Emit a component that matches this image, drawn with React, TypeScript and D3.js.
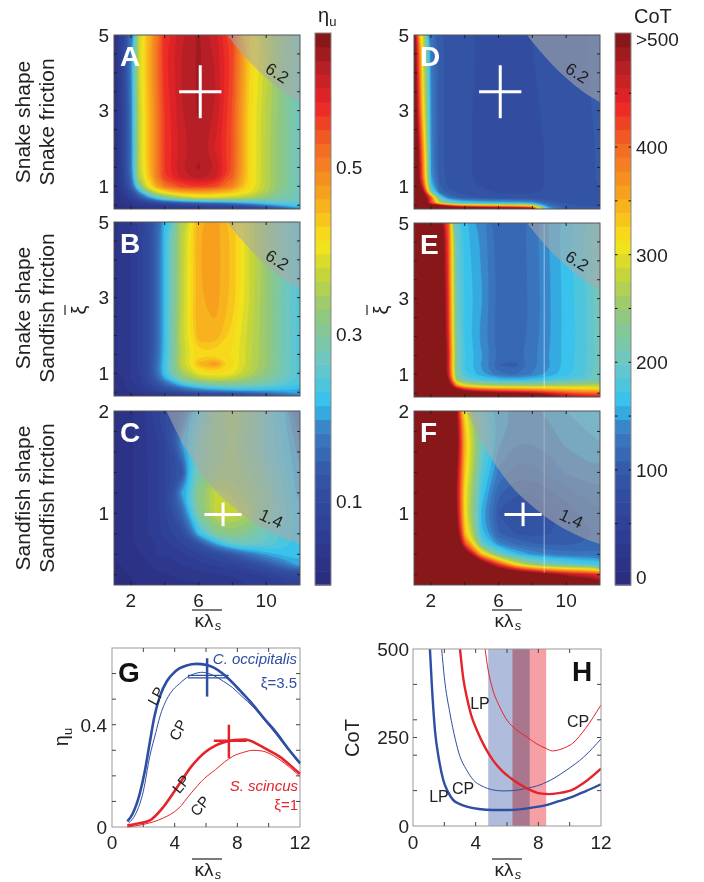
import React from 'react';
import * as d3 from 'd3';

const FONT = '"Liberation Sans", Arial, Helvetica, sans-serif';

// sampled grid: columns are kappa*lambda_s, rows are xi (ascending)
const KAPPA = [1, 1.5, 2, 2.5, 3, 3.5, 4, 5, 6, 7, 8, 9, 10, 11, 12];
const XI_SNAKE = [0.4, 0.47, 0.55, 0.7, 0.85, 1, 1.25, 1.5, 2, 3, 4, 5];
const XI_SAND = [0.3, 0.4, 0.5, 0.6, 0.7, 0.8, 1.0, 1.2, 1.4, 1.7, 2.0];

// eta_u, snake shape / snake friction
const ETA_A = [
  [0.01, 0.01, 0.02, 0.02, 0.03, 0.03, 0.03, 0.04, 0.04, 0.05, 0.05, 0.06, 0.08, 0.11, 0.18],
  [0.01, 0.02, 0.03, 0.04, 0.04, 0.05, 0.05, 0.06, 0.07, 0.08, 0.09, 0.11, 0.15, 0.19, 0.23],
  [0.02, 0.03, 0.04, 0.06, 0.07, 0.09, 0.1, 0.12, 0.14, 0.15, 0.17, 0.2, 0.23, 0.25, 0.26],
  [0.02, 0.04, 0.07, 0.12, 0.18, 0.24, 0.29, 0.35, 0.38, 0.38, 0.37, 0.35, 0.32, 0.29, 0.27],
  [0.02, 0.05, 0.1, 0.2, 0.31, 0.38, 0.42, 0.46, 0.47, 0.46, 0.44, 0.4, 0.35, 0.3, 0.27],
  [0.02, 0.06, 0.14, 0.3, 0.4, 0.46, 0.51, 0.55, 0.56, 0.55, 0.5, 0.42, 0.36, 0.31, 0.27],
  [0.02, 0.07, 0.16, 0.36, 0.43, 0.5, 0.56, 0.6, 0.62, 0.6, 0.53, 0.42, 0.36, 0.31, 0.27],
  [0.02, 0.07, 0.17, 0.37, 0.44, 0.5, 0.56, 0.61, 0.63, 0.61, 0.54, 0.42, 0.36, 0.31, 0.27],
  [0.02, 0.07, 0.17, 0.37, 0.44, 0.5, 0.56, 0.6, 0.62, 0.59, 0.54, 0.42, 0.36, 0.31, 0.27],
  [0.02, 0.07, 0.17, 0.37, 0.44, 0.5, 0.56, 0.61, 0.63, 0.61, 0.54, 0.42, 0.36, 0.31, 0.27],
  [0.02, 0.08, 0.18, 0.38, 0.45, 0.51, 0.57, 0.61, 0.63, 0.61, 0.55, 0.43, 0.37, 0.31, 0.27],
  [0.02, 0.08, 0.18, 0.38, 0.45, 0.51, 0.57, 0.61, 0.63, 0.6, 0.55, 0.43, 0.37, 0.32, 0.28],
];

// eta_u, snake shape / sandfish friction
const ETA_B = [
  [0.02, 0.02, 0.02, 0.03, 0.03, 0.04, 0.04, 0.05, 0.06, 0.07, 0.08, 0.09, 0.11, 0.14, 0.18],
  [0.02, 0.02, 0.03, 0.03, 0.04, 0.05, 0.06, 0.08, 0.1, 0.11, 0.12, 0.14, 0.16, 0.18, 0.2],
  [0.02, 0.03, 0.04, 0.05, 0.06, 0.08, 0.1, 0.14, 0.17, 0.19, 0.2, 0.21, 0.21, 0.21, 0.21],
  [0.02, 0.03, 0.04, 0.06, 0.08, 0.11, 0.15, 0.22, 0.27, 0.29, 0.3, 0.29, 0.27, 0.25, 0.23],
  [0.03, 0.03, 0.05, 0.06, 0.09, 0.14, 0.2, 0.3, 0.35, 0.37, 0.36, 0.33, 0.3, 0.27, 0.24],
  [0.03, 0.04, 0.05, 0.07, 0.1, 0.16, 0.23, 0.34, 0.4, 0.42, 0.4, 0.36, 0.32, 0.28, 0.24],
  [0.03, 0.04, 0.05, 0.07, 0.1, 0.16, 0.23, 0.37, 0.45, 0.48, 0.42, 0.37, 0.33, 0.28, 0.24],
  [0.03, 0.04, 0.05, 0.07, 0.1, 0.15, 0.22, 0.36, 0.42, 0.42, 0.41, 0.37, 0.33, 0.28, 0.24],
  [0.03, 0.04, 0.05, 0.07, 0.1, 0.15, 0.22, 0.37, 0.46, 0.46, 0.42, 0.37, 0.33, 0.28, 0.24],
  [0.03, 0.04, 0.05, 0.07, 0.1, 0.15, 0.22, 0.36, 0.46, 0.47, 0.44, 0.38, 0.33, 0.28, 0.24],
  [0.03, 0.04, 0.05, 0.07, 0.1, 0.15, 0.22, 0.36, 0.46, 0.47, 0.44, 0.38, 0.33, 0.28, 0.24],
  [0.03, 0.04, 0.05, 0.07, 0.1, 0.15, 0.22, 0.36, 0.46, 0.47, 0.44, 0.38, 0.33, 0.28, 0.24],
];

// eta_u, sandfish shape / sandfish friction
const ETA_C = [
  [0.01, 0.01, 0.01, 0.02, 0.02, 0.02, 0.02, 0.03, 0.03, 0.04, 0.04, 0.05, 0.05, 0.06, 0.07],
  [0.01, 0.01, 0.02, 0.02, 0.02, 0.03, 0.03, 0.04, 0.04, 0.05, 0.05, 0.06, 0.07, 0.09, 0.11],
  [0.01, 0.02, 0.02, 0.03, 0.03, 0.04, 0.04, 0.05, 0.06, 0.07, 0.08, 0.1, 0.13, 0.17, 0.21],
  [0.02, 0.02, 0.03, 0.03, 0.04, 0.05, 0.05, 0.06, 0.08, 0.1, 0.13, 0.17, 0.2, 0.22, 0.22],
  [0.02, 0.02, 0.03, 0.04, 0.04, 0.05, 0.06, 0.08, 0.12, 0.2, 0.26, 0.27, 0.26, 0.24, 0.22],
  [0.02, 0.02, 0.03, 0.04, 0.05, 0.06, 0.07, 0.1, 0.22, 0.3, 0.32, 0.3, 0.27, 0.24, 0.22],
  [0.02, 0.02, 0.03, 0.04, 0.05, 0.06, 0.08, 0.15, 0.3, 0.37, 0.38, 0.35, 0.3, 0.26, 0.22],
  [0.02, 0.02, 0.03, 0.04, 0.05, 0.06, 0.08, 0.2, 0.32, 0.37, 0.36, 0.33, 0.3, 0.25, 0.2],
  [0.02, 0.02, 0.03, 0.04, 0.05, 0.06, 0.08, 0.12, 0.28, 0.33, 0.34, 0.32, 0.28, 0.24, 0.2],
  [0.02, 0.02, 0.03, 0.04, 0.05, 0.06, 0.08, 0.2, 0.28, 0.32, 0.33, 0.3, 0.26, 0.23, 0.18],
  [0.02, 0.02, 0.03, 0.04, 0.06, 0.08, 0.1, 0.15, 0.24, 0.32, 0.35, 0.32, 0.27, 0.22, 0.15],
];

// cost of transport, snake shape / snake friction
const COT_D = [
  [600, 600, 600, 600, 600, 600, 600, 600, 560, 540, 520, 160, 110, 100, 100],
  [600, 600, 600, 560, 480, 430, 400, 380, 370, 360, 340, 130, 100, 95, 95],
  [600, 580, 420, 280, 220, 200, 185, 175, 170, 165, 160, 110, 95, 92, 92],
  [650, 600, 420, 200, 130, 110, 100, 92, 88, 86, 86, 86, 88, 90, 92],
  [620, 520, 220, 120, 100, 95, 90, 85, 82, 80, 82, 84, 88, 90, 94],
  [600, 450, 170, 110, 95, 90, 86, 82, 78, 78, 80, 84, 88, 92, 96],
  [600, 400, 150, 102, 92, 88, 85, 80, 75, 76, 80, 84, 88, 92, 97],
  [620, 400, 145, 100, 92, 88, 85, 80, 76, 77, 80, 84, 88, 92, 97],
  [600, 380, 140, 100, 92, 88, 85, 80, 76, 77, 80, 84, 88, 92, 97],
  [560, 330, 140, 100, 92, 88, 85, 80, 77, 78, 81, 85, 89, 93, 98],
  [540, 310, 135, 100, 92, 88, 85, 81, 78, 79, 82, 86, 90, 94, 99],
  [520, 300, 130, 100, 92, 88, 85, 82, 80, 80, 83, 87, 91, 95, 100],
];

// cost of transport, snake shape / sandfish friction
const COT_E = [
  [600, 600, 600, 600, 600, 600, 600, 600, 600, 600, 600, 520, 480, 460, 450],
  [600, 600, 600, 600, 600, 600, 580, 560, 540, 530, 520, 480, 440, 420, 420],
  [600, 600, 600, 600, 600, 560, 500, 460, 440, 430, 420, 400, 380, 360, 360],
  [600, 600, 600, 600, 560, 380, 300, 270, 260, 255, 255, 260, 265, 270, 280],
  [600, 600, 600, 600, 500, 250, 200, 175, 165, 160, 165, 175, 185, 195, 210],
  [600, 600, 600, 600, 470, 220, 175, 150, 125, 120, 135, 150, 168, 182, 210],
  [600, 600, 600, 600, 460, 215, 172, 145, 108, 102, 128, 146, 165, 180, 208],
  [600, 600, 600, 600, 470, 220, 174, 148, 120, 116, 130, 147, 165, 180, 208],
  [600, 600, 600, 590, 450, 215, 170, 142, 112, 110, 126, 145, 165, 180, 208],
  [600, 600, 600, 590, 440, 205, 172, 148, 116, 112, 125, 145, 165, 180, 210],
  [600, 600, 600, 580, 430, 200, 168, 145, 114, 112, 126, 146, 166, 182, 212],
  [600, 600, 600, 570, 420, 198, 165, 142, 114, 112, 128, 148, 168, 185, 215],
];

// cost of transport, sandfish shape / sandfish friction
const COT_F = [
  [600, 600, 600, 600, 600, 600, 600, 600, 600, 600, 600, 600, 580, 560, 550],
  [600, 600, 600, 600, 600, 600, 600, 600, 600, 590, 560, 520, 480, 460, 440],
  [600, 600, 600, 600, 600, 600, 600, 560, 430, 310, 240, 210, 195, 185, 180],
  [600, 600, 600, 600, 600, 600, 570, 340, 210, 165, 145, 135, 128, 125, 125],
  [600, 600, 600, 600, 600, 590, 420, 200, 140, 120, 110, 106, 106, 110, 115],
  [600, 600, 600, 600, 600, 540, 340, 165, 110, 95, 90, 95, 100, 105, 110],
  [600, 600, 600, 600, 600, 500, 310, 155, 95, 82, 82, 90, 100, 110, 120],
  [600, 600, 600, 600, 600, 490, 310, 170, 112, 96, 96, 105, 115, 125, 130],
  [600, 600, 600, 600, 600, 500, 330, 185, 130, 115, 115, 125, 135, 140, 145],
  [600, 600, 600, 600, 600, 540, 350, 205, 150, 135, 135, 140, 150, 155, 160],
  [600, 600, 600, 600, 600, 500, 310, 195, 155, 145, 145, 150, 160, 165, 170],
];

// grey regions (boundary points [kappa, xi])
const SHADE_62 = [[7.7, 5], [8, 4.82], [9, 4.3], [10, 3.86], [11, 3.5], [12, 3.22]];
const SHADE_14 = [[4.1, 2], [5, 1.7], [6, 1.43], [7, 1.22], [8, 1.07], [9, 0.94], [10, 0.84], [11, 0.76], [12, 0.7]];

// measured animal operating points
const CROSS_SNAKE = { k: 6.1, xi: 3.5, dk: 1.25, dxi: 0.7 };
const CROSS_SAND = { k: 7.45, xi: 0.99, dk: 1.1, dxi: 0.115 };

// colour bars
const ETA_DOM = [0, 0.66];
const COT_DOM = [-7, 506];
const ETA_TICKS = [0.1, 0.3, 0.5];
const COT_TICKS = [0, 100, 200, 300, 400, 500];
const COT_TICK_LABELS = ['0', '100', '200', '300', '400', '>500'];

const JET_POS = [0, 0.1, 0.2, 0.28, 0.33, 0.4, 0.5, 0.57, 0.62, 0.7, 0.8, 0.87, 0.94, 1];
const JET = ['#2a2a7a', '#2e3f96', '#3456a6', '#3a7cc2', '#33c3f0', '#6bc7c8', '#96c876', '#cbd632',
  '#f7e51a', '#f7a81d', '#f26523', '#ec2427', '#b41f26', '#7c1517'];

// panel G: eta_u vs kappa*lambda_s
const G_BLUE_LP_K = [0.98, 1.3, 1.77, 2.1, 2.41, 2.7, 3.05, 3.5, 3.9, 4.3, 4.76, 5.4, 6, 6.5, 7.1, 7.7, 8.3, 9.0, 9.7, 10.5, 11.2, 12];
const G_BLUE_LP = [0.022, 0.05, 0.13, 0.22, 0.33, 0.43, 0.51, 0.57, 0.6, 0.62, 0.632, 0.638, 0.634, 0.623, 0.598, 0.564, 0.525, 0.478, 0.425, 0.368, 0.31, 0.25];
const G_BLUE_CP_K = [1.06, 1.5, 2.0, 2.41, 2.8, 3.05, 3.5, 3.9, 4.3, 4.76, 5.2, 5.8, 6.5, 7.1, 7.7, 8.3, 9.0, 9.7, 10.5, 11.2, 12];
const G_BLUE_CP = [0.015, 0.05, 0.14, 0.276, 0.37, 0.43, 0.5, 0.537, 0.56, 0.584, 0.598, 0.605, 0.592, 0.57, 0.545, 0.51, 0.47, 0.42, 0.36, 0.305, 0.245];
const G_RED_LP_K = [0.97, 1.5, 2.41, 3.3, 4.2, 5.07, 5.9, 6.6, 7.2, 7.8, 8.5, 9.4, 10.0, 10.7, 11.4, 12];
const G_RED_LP = [0.006, 0.012, 0.026, 0.08, 0.159, 0.237, 0.29, 0.318, 0.332, 0.34, 0.342, 0.32, 0.3, 0.275, 0.24, 0.208];
const G_RED_CP_K = [0.97, 2.0, 3.3, 4.2, 5.07, 5.9, 6.6, 7.2, 7.7, 8.4, 9.0, 9.6, 10.3, 11.0, 12];
const G_RED_CP = [0.0, 0.01, 0.036, 0.07, 0.134, 0.19, 0.224, 0.255, 0.276, 0.292, 0.3, 0.297, 0.279, 0.25, 0.198];
const G_CROSS_BLUE = { k: 6.07, lo: 0.51, hi: 0.66, k0: 4.85, k1: 7.45, v: [0.583, 0.593] };
const G_CROSS_RED = { k: 7.46, lo: 0.27, hi: 0.4, k0: 6.5, k1: 8.6, v: 0.337 };

// panel H: CoT vs kappa*lambda_s
const H_BLUE_LP_K = [1.08, 1.2, 1.4, 1.65, 1.93, 2.25, 2.57, 3.0, 3.43, 4.2, 5.1, 6.0, 6.8, 7.6, 8.5, 9.3, 10.2, 11.0, 12];
const H_BLUE_LP = [500, 400, 271, 190, 130, 95, 73, 62, 55, 48, 45, 45, 47, 52, 59, 70, 83, 98, 118];
const H_BLUE_CP_K = [1.83, 2.0, 2.36, 2.7, 3.0, 3.4, 3.85, 4.4, 5.1, 5.8, 6.4, 7.2, 8.1, 9.0, 9.8, 10.9, 12];
const H_BLUE_CP = [500, 420, 318, 245, 196, 160, 130, 113, 102, 99, 100, 106, 116, 135, 158, 195, 246];
const H_RED_LP_K = [3.0, 3.2, 3.43, 3.7, 4.07, 4.6, 5.1, 5.7, 6.4, 7.2, 8.1, 8.7, 9.3, 10.2, 11.0, 12];
const H_RED_LP = [500, 420, 365, 315, 271, 222, 186, 155, 130, 108, 92, 90, 93, 103, 125, 162];
const H_RED_CP_K = [4.6, 4.8, 5.1, 5.5, 6.0, 6.6, 7.25, 7.9, 8.5, 8.9, 9.5, 10.2, 11.0, 12];
const H_RED_CP = [500, 440, 384, 340, 299, 272, 252, 232, 219, 212, 218, 234, 275, 342];
const H_BAND_BLUE = [4.8, 7.45];
const H_BAND_RED = [6.35, 8.5];

const BLUE = '#2e4ea3';
const RED = '#e4232b';

const makeColor = (dom: number[]) =>
  d3.scaleLinear<string>()
    .domain(JET_POS.map(t => dom[0] + t * (dom[1] - dom[0])))
    .range(JET)
    .clamp(true);

const HW = 186, HH = 174;

function Heat(p: any) {
  const x = d3.scaleLinear().domain([1, 12]).range([p.left, p.left + HW]);
  const y = d3.scaleLinear().domain(p.ydom).range([p.top + HH, p.top]);
  const gi = d3.scaleLinear().domain(KAPPA.map((_, i) => i)).range(KAPPA);
  const gj = d3.scaleLinear().domain(p.rows.map((_: number, i: number) => i)).range(p.rows);
  const color = makeColor(p.cdom);
  const N = 40;
  const step = (p.cdom[1] - p.cdom[0]) / N;
  const levels = d3.range(N).map(i => p.cdom[0] + i * step);
  const contours = d3.contours().size([KAPPA.length, p.rows.length]).thresholds(levels)(p.grid.flat());
  const ring = d3.line<number[]>()
    .x(q => x(gi(q[0] - 0.5)))
    .y(q => y(gj(q[1] - 0.5)))
    .curve(d3.curveBasisClosed);
  const shadeLine = d3.line<number[]>().x(q => x(q[0])).y(q => y(q[1])).curve(d3.curveMonotoneX);
  const shadeD = shadeLine(p.shade) + `L${x(12.3)},${y(p.shade[p.shade.length - 1][1])}L${x(12.3)},${y(p.ydom[1]) - 2}L${x(p.shade[0][0])},${y(p.ydom[1]) - 2}Z`;
  const clip = `clip-${p.letter}`;
  const xt = [2, 4, 6, 8, 10];
  const c = p.cross;
  return (
    <g>
      <defs>
        <clipPath id={clip}><rect x={p.left} y={p.top} width={HW} height={HH} /></clipPath>
      </defs>
      <g clipPath={`url(#${clip})`}>
        <rect x={p.left} y={p.top} width={HW} height={HH} fill={color(p.cdom[0])} />
        {contours.map((cn, i) => (
          <path key={i} fill={color(cn.value + step / 2)} stroke={color(cn.value + step / 2)} strokeWidth={0.4}
            d={cn.coordinates.map(poly => poly.map(r => ring(r.slice(0, -1) as any)).join('')).join('')} />
        ))}
        {p.seam && (
          <line x1={x(p.seam[0])} x2={x(p.seam[0])} y1={y(p.seam[1])} y2={p.top} stroke="#fff" strokeOpacity={0.5} strokeWidth={1} />
        )}
        <path d={shadeD} fill="rgb(168,168,168)" fillOpacity={0.58} />
        {c && (
          <g stroke="#fff" strokeWidth={3}>
            <line x1={x(c.k - c.dk)} x2={x(c.k + c.dk)} y1={y(c.xi)} y2={y(c.xi)} />
            <line x1={x(c.k)} x2={x(c.k)} y1={y(c.xi - c.dxi)} y2={y(c.xi + c.dxi)} />
          </g>
        )}
      </g>
      <text transform={`translate(${x(p.textAt[0])},${y(p.textAt[1])}) rotate(${p.textAt[2]})`} textAnchor="middle"
        dy="0.35em" fontSize={17} fill="#1e1e1e" fontFamily={FONT}>{p.shadeText}</text>
      <rect x={p.left} y={p.top} width={HW} height={HH} fill="none" stroke="#555" strokeWidth={1} />
      {xt.map(v => (
        <g key={'x' + v} stroke="#222" strokeWidth={1}>
          <line x1={x(v)} x2={x(v)} y1={p.top} y2={p.top + 3} />
          <line x1={x(v)} x2={x(v)} y1={p.top + HH} y2={p.top + HH - 3} />
        </g>
      ))}
      {p.yMinor.map((v: number) => (
        <g key={'y' + v} stroke="#222" strokeWidth={1}>
          <line x1={p.left} x2={p.left + 3} y1={y(v)} y2={y(v)} />
          <line x1={p.left + HW} x2={p.left + HW - 3} y1={y(v)} y2={y(v)} />
        </g>
      ))}
      {p.yLabels.map((v: number) => (
        <text key={'yl' + v} x={p.left - 5} y={y(v)} dy="0.36em" textAnchor="end" fontSize={19} fontFamily={FONT} fill="#222">{v}</text>
      ))}
      {p.showX && [2, 6, 10].map(v => (
        <text key={'xl' + v} x={x(v)} y={p.top + HH + 22} textAnchor="middle" fontSize={19} fontFamily={FONT} fill="#222">{v}</text>
      ))}
      <text x={p.left + 6} y={p.top + 31} fontSize={28} fontWeight="bold" fill="#fff" fontFamily={FONT}>{p.letter}</text>
    </g>
  );
}

function ColorBar({ left, dom, ticks, labels, minor }: any) {
  const top = 33, bottom = 585, w = 16;
  const y = d3.scaleLinear().domain(dom).range([bottom, top]);
  const color = makeColor(dom);
  const N = 40;
  const step = (dom[1] - dom[0]) / N;
  return (
    <g>
      {d3.range(N).map(i => (
        <rect key={i} x={left} y={y(dom[0] + (i + 1) * step)} width={w}
          height={y(dom[0] + i * step) - y(dom[0] + (i + 1) * step) + 0.6} fill={color(dom[0] + (i + 0.5) * step)} />
      ))}
      <rect x={left} y={top} width={w} height={bottom - top} fill="none" stroke="#888" strokeWidth={1} />
      {minor.map((v: number) => (
        <g key={v} stroke="#111" strokeWidth={1}>
          <line x1={left} x2={left + 2.5} y1={y(v)} y2={y(v)} />
          <line x1={left + w} x2={left + w - 2.5} y1={y(v)} y2={y(v)} />
        </g>
      ))}
      {ticks.map((v: number, i: number) => (
        <text key={'t' + v} x={left + w + 5} y={y(v)} dy="0.36em" fontSize={19} fontFamily={FONT} fill="#222">{labels[i]}</text>
      ))}
    </g>
  );
}

function KappaLabel({ cx, y }: { cx: number; y: number }) {
  return (
    <g fontFamily={FONT} fill="#222">
      <line x1={cx - 15} x2={cx + 15} y1={y - 17} y2={y - 17} stroke="#222" strokeWidth={1.2} />
      <text x={cx - 3} y={y} textAnchor="middle" fontSize={19}>κλ</text>
      <text x={cx + 11} y={y + 3} textAnchor="middle" fontSize={13} fontStyle="italic">s</text>
    </g>
  );
}

function RowLabel({ x, cy, lines }: { x: number; cy: number; lines: string[] }) {
  return (
    <g fontFamily={FONT} fontSize={21} fill="#222">
      {lines.map((s, i) => (
        <text key={i} transform={`translate(${x + i * 24},${cy}) rotate(-90)`} textAnchor="middle">{s}</text>
      ))}
    </g>
  );
}

// xi with overbar, turned on its side like the reference
function XiLabel({ bx }: { bx: number }) {
  return (
    <g fontFamily={FONT} fill="#222" transform={`translate(${bx},310) rotate(-90)`}>
      <line x1={-5} x2={5} y1={-21} y2={-21} stroke="#222" strokeWidth={1.2} />
      <text x={0} y={0} textAnchor="middle" fontSize={20}>ξ</text>
    </g>
  );
}

function PanelG() {
  const x = d3.scaleLinear().domain([0, 12]).range([112, 300]);
  const y = d3.scaleLinear().domain([0, 0.7]).range([827, 648]);
  const mk = (ks: number[], vs: number[]) =>
    d3.line<number>().x((_, i) => x(ks[i])).y(v => y(v)).curve(d3.curveMonotoneX)(vs) as string;
  const b = G_CROSS_BLUE, r = G_CROSS_RED;
  return (
    <g fontFamily={FONT}>
      <rect x={112} y={648} width={188} height={179} fill="#fff" stroke="#999" />
      {[2, 4, 6, 8, 10].map(v => (
        <g key={v} stroke="#444">
          <line x1={x(v)} x2={x(v)} y1={827} y2={823} />
          <line x1={x(v)} x2={x(v)} y1={648} y2={652} />
        </g>
      ))}
      {[0.1, 0.2, 0.3, 0.4, 0.5, 0.6].map(v => (
        <g key={v} stroke="#444">
          <line x1={112} x2={116} y1={y(v)} y2={y(v)} />
          <line x1={300} x2={296} y1={y(v)} y2={y(v)} />
        </g>
      ))}
      <path d={mk(G_BLUE_LP_K, G_BLUE_LP)} fill="none" stroke={BLUE} strokeWidth={2.6} />
      <path d={mk(G_BLUE_CP_K, G_BLUE_CP)} fill="none" stroke={BLUE} strokeWidth={1} />
      <path d={mk(G_RED_LP_K, G_RED_LP)} fill="none" stroke={RED} strokeWidth={2.6} />
      <path d={mk(G_RED_CP_K, G_RED_CP)} fill="none" stroke={RED} strokeWidth={1} />
      <g stroke={BLUE} strokeWidth={2}>
        <line x1={x(b.k)} x2={x(b.k)} y1={y(b.lo)} y2={y(b.hi)} strokeWidth={2.5} />
        {b.v.map(v => <line key={v} x1={x(b.k0)} x2={x(b.k1)} y1={y(v)} y2={y(v)} strokeWidth={1.3} />)}
      </g>
      <g stroke={RED} strokeWidth={2.5}>
        <line x1={x(r.k)} x2={x(r.k)} y1={y(r.lo)} y2={y(r.hi)} />
        <line x1={x(r.k0)} x2={x(r.k1)} y1={y(r.v)} y2={y(r.v)} />
      </g>
      <text x={297} y={664} textAnchor="end" fontSize={15} fontStyle="italic" fill={BLUE}>C. occipitalis</text>
      <text x={297} y={688} textAnchor="end" fontSize={15} fill={BLUE}>ξ=3.5</text>
      <text x={298} y={791} textAnchor="end" fontSize={15} fontStyle="italic" fill={RED}>S. scincus</text>
      <text x={298} y={810} textAnchor="end" fontSize={15} fill={RED}>ξ=1</text>
      <g fontSize={15} fill="#222" textAnchor="middle">
        <text transform="translate(156,696) rotate(-62)" dy="0.35em">LP</text>
        <text transform="translate(178,730) rotate(-62)" dy="0.35em">CP</text>
        <text transform="translate(181,784) rotate(-50)" dy="0.35em">LP</text>
        <text transform="translate(200,806) rotate(-50)" dy="0.35em">CP</text>
      </g>
      <text x={118} y={682} fontSize={28} fontWeight="bold" fill="#111">G</text>
      {[0, 4, 8, 12].map(v => (
        <text key={v} x={x(v)} y={849} textAnchor="middle" fontSize={19} fill="#222">{v}</text>
      ))}
      {[0, 0.4].map(v => (
        <text key={v} x={107} y={y(v)} dy="0.36em" textAnchor="end" fontSize={19} fill="#222">{v}</text>
      ))}
      <text transform="translate(68,737) rotate(-90)" textAnchor="middle" fontSize={20} fill="#222">
        η<tspan fontSize={13} dy={4}>u</tspan>
      </text>
    </g>
  );
}

function PanelH() {
  const x = d3.scaleLinear().domain([0, 12]).range([413, 601]);
  const y = d3.scaleLinear().domain([0, 500]).range([826, 649]);
  const mk = (ks: number[], vs: number[]) =>
    d3.line<number>().x((_, i) => x(ks[i])).y(v => y(v)).curve(d3.curveMonotoneX)(vs) as string;
  return (
    <g fontFamily={FONT}>
      <defs>
        <clipPath id="clip-H"><rect x={413} y={649} width={188} height={177} /></clipPath>
      </defs>
      <rect x={413} y={649} width={188} height={177} fill="#fff" />
      <rect x={x(H_BAND_BLUE[0])} y={649} width={x(H_BAND_BLUE[1]) - x(H_BAND_BLUE[0])} height={177} fill="#b0bcdc" />
      <rect x={x(H_BAND_RED[0])} y={649} width={x(H_BAND_RED[1]) - x(H_BAND_RED[0])} height={177} fill="#f5a0a5"
        style={{ mixBlendMode: 'multiply' }} />
      <g clipPath="url(#clip-H)" fill="none">
        <path d={mk(H_BLUE_LP_K, H_BLUE_LP)} stroke={BLUE} strokeWidth={2.4} />
        <path d={mk(H_BLUE_CP_K, H_BLUE_CP)} stroke={BLUE} strokeWidth={1} />
        <path d={mk(H_RED_LP_K, H_RED_LP)} stroke={RED} strokeWidth={2.4} />
        <path d={mk(H_RED_CP_K, H_RED_CP)} stroke={RED} strokeWidth={1} />
      </g>
      <rect x={413} y={649} width={188} height={177} fill="none" stroke="#999" />
      {[2, 4, 6, 8, 10].map(v => (
        <g key={v} stroke="#444">
          <line x1={x(v)} x2={x(v)} y1={826} y2={822} />
          <line x1={x(v)} x2={x(v)} y1={649} y2={653} />
        </g>
      ))}
      {[100, 200, 250, 300, 400].map(v => (
        <g key={v} stroke="#444">
          <line x1={413} x2={417} y1={y(v)} y2={y(v)} />
          <line x1={601} x2={597} y1={y(v)} y2={y(v)} />
        </g>
      ))}
      <g fontSize={16} fill="#222" textAnchor="middle">
        <text x={480} y={709}>LP</text>
        <text x={578} y={727}>CP</text>
        <text x={463} y={794}>CP</text>
        <text x={439} y={802}>LP</text>
      </g>
      <text x={572} y={681} fontSize={28} fontWeight="bold" fill="#111">H</text>
      {[0, 4, 8, 12].map(v => (
        <text key={v} x={x(v)} y={849} textAnchor="middle" fontSize={19} fill="#222">{v}</text>
      ))}
      {[0, 250, 500].map(v => (
        <text key={v} x={409} y={y(v)} dy="0.36em" textAnchor="end" fontSize={19} fill="#222">{v}</text>
      ))}
      <text transform="translate(359,738) rotate(-90)" textAnchor="middle" fontSize={20} fill="#222">CoT</text>
    </g>
  );
}

export default function App() {
  const ySnakeMinor = [0.5, 1, 1.5, 2, 2.5, 3, 3.5, 4, 4.5];
  const ySandMinor = [0.4, 0.6, 0.8, 1, 1.2, 1.4, 1.6, 1.8];
  const snake = { rows: XI_SNAKE, ydom: [0.4, 5], yLabels: [1, 3, 5], yMinor: ySnakeMinor, shade: SHADE_62, shadeText: '6.2', textAt: [10.65, 4.0, 33] };
  const sand = { rows: XI_SAND, ydom: [0.3, 2], yLabels: [1, 2], yMinor: ySandMinor, shade: SHADE_14, shadeText: '1.4', textAt: [10.3, 0.95, 25] };
  return (
    <svg width={704} height={882} style={{ position: 'absolute', left: 0, top: 0, background: '#fff' }}>
      <rect width={704} height={882} fill="#fff" />
      <Heat {...snake} letter="A" left={114} top={35} grid={ETA_A} cdom={ETA_DOM} cross={CROSS_SNAKE} />
      <Heat {...snake} letter="B" left={114} top={222} grid={ETA_B} cdom={ETA_DOM} />
      <Heat {...sand} letter="C" left={114} top={411} grid={ETA_C} cdom={ETA_DOM} cross={CROSS_SAND} showX />
      <Heat {...snake} letter="D" left={414} top={35} grid={COT_D} cdom={COT_DOM} cross={CROSS_SNAKE} />
      <Heat {...snake} letter="E" left={414} top={223} grid={COT_E} cdom={COT_DOM} seam={[8.7, 0.63]} />
      <Heat {...sand} letter="F" left={414} top={411} grid={COT_F} cdom={COT_DOM} cross={CROSS_SAND} seam={[8.7, 0.42]} showX />

      <ColorBar left={315} dom={ETA_DOM} ticks={ETA_TICKS} labels={ETA_TICKS.map(String)} minor={[]} />
      <ColorBar left={615} dom={COT_DOM} ticks={COT_TICKS} labels={COT_TICK_LABELS}
        minor={[50, 100, 150, 200, 250, 300, 350, 400, 450]} />
      <text x={318} y={22} fontSize={20} fontFamily={FONT} fill="#222">η<tspan fontSize={13} dy={4}>u</tspan></text>
      <text x={634} y={23} fontSize={20} fontFamily={FONT} fill="#222">CoT</text>

      <RowLabel x={30} cy={122} lines={['Snake shape', 'Snake friction']} />
      <RowLabel x={30} cy={308} lines={['Snake shape', 'Sandfish friction']} />
      <RowLabel x={30} cy={498} lines={['Sandfish shape', 'Sandfish friction']} />
      <XiLabel bx={86} />
      <XiLabel bx={388} />

      <KappaLabel cx={207} y={627} />
      <KappaLabel cx={507} y={627} />
      <PanelG />
      <PanelH />
      <KappaLabel cx={207} y={876} />
      <KappaLabel cx={507} y={876} />
    </svg>
  );
}
